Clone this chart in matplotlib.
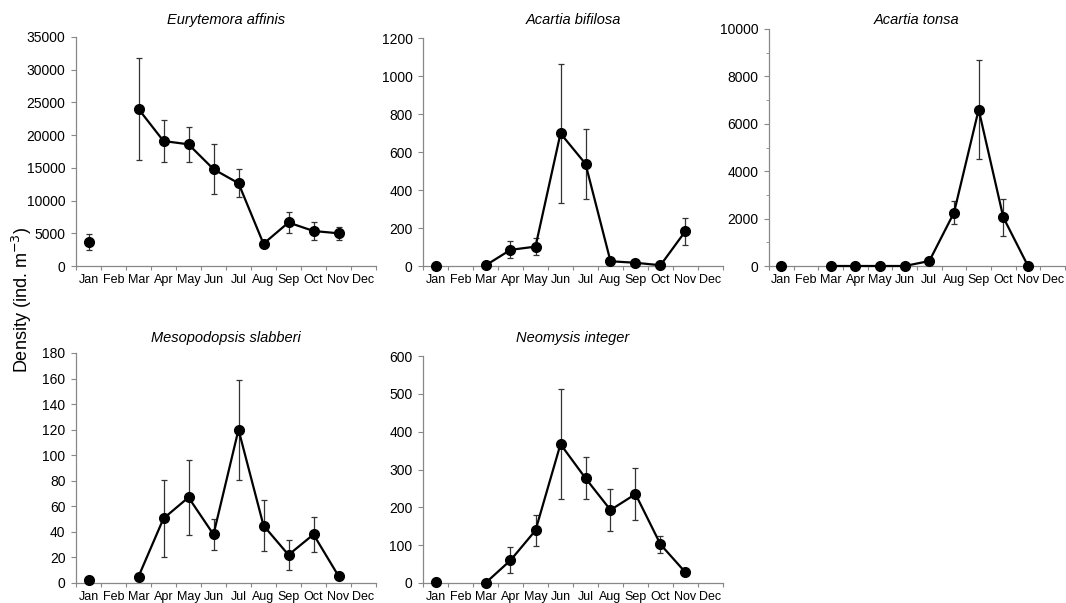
"""
Seasonal density of five estuarine zooplankton species (mean +/- SE per month).
"""
import numpy as np
import matplotlib
matplotlib.use("Agg")
import matplotlib.pyplot as plt
from matplotlib.ticker import MultipleLocator

plt.rcParams["font.family"] = ["Liberation Sans Narrow", "Liberation Sans", "DejaVu Sans"]

MONTHS = ["Jan", "Feb", "Mar", "Apr", "May", "Jun",
          "Jul", "Aug", "Sep", "Oct", "Nov", "Dec"]
nan = np.nan

# monthly means (NaN = no sample)
eurytemora = [3700, nan, 24000, 19100, 18600, 14800, 12650, 3400, 6650, 5350, 5000, nan]
eurytemora_err = [1200, nan, 7750, 3250, 2650, 3800, 2100, 300, 1600, 1300, 1000, nan]

bifilosa = [0, nan, 3, 85, 102, 698, 538, 25, 17, 4, 184, nan]
bifilosa_err = [nan, nan, nan, 44, 45, 365, 185, nan, nan, nan, 71, nan]

tonsa = [0, nan, 0, 0, 0, 0, 210, 2250, 6600, 2050, 0, nan]
tonsa_err = [nan, nan, nan, nan, nan, nan, nan, 480, 2100, 780, nan, nan]

mesopodopsis = [2.5, nan, 5, 50.5, 67, 38, 120, 45, 22, 38, 5.5, nan]
mesopodopsis_err = [nan, nan, nan, 30.5, 29.5, 12, 39, 20, 11.7, 13.4, nan, nan]

neomysis = [2, nan, 0, 60, 139, 367, 277, 193, 235, 102, 28, nan]
neomysis_err = [nan, nan, nan, 34, 42, 145, 56, 55, 69, 23, nan, nan]

# (title, values, errors, ymax, major step, minor step, axes rect in px)
PANELS = [
    ("Eurytemora affinis", eurytemora, eurytemora_err, 35000, 5000, None, (76, 37, 300, 229)),
    ("Acartia bifilosa", bifilosa, bifilosa_err, 1200, 200, None, (423, 38, 300, 228)),
    ("Acartia tonsa", tonsa, tonsa_err, 10000, 2000, 1000, (769, 29, 296, 237)),
    ("Mesopodopsis slabberi", mesopodopsis, mesopodopsis_err, 180, 20, None, (76, 353, 300, 230)),
    ("Neomysis integer", neomysis, neomysis_err, 600, 100, None, (423, 356, 300, 227)),
]
TITLE_Y = [20, 20, 20, 338, 338]

W, H = 1066, 603
fig = plt.figure(figsize=(W / 100, H / 100), dpi=100)

x = np.arange(len(MONTHS)) + 0.5
for (title, vals, errs, ymax, step, mstep, (l, t, w, h)), ty in zip(PANELS, TITLE_Y):
    ax = fig.add_axes([l / W, 1 - (t + h) / H, w / W, h / H])
    vals = np.array(vals, dtype=float)
    errs = np.array(errs, dtype=float)
    ax.errorbar(x, vals, yerr=errs, fmt="none", ecolor="#333333",
                elinewidth=0.9, capsize=2.5, capthick=0.9, zorder=2)
    ax.plot(x, vals, "-o", color="black", lw=1.6, ms=7, zorder=3, clip_on=False)

    ax.set_xlim(0, 12)
    ax.set_ylim(0, ymax)
    ax.set_xticks(np.arange(13))
    ax.set_xticklabels([])
    ax.set_xticks(x, minor=True)
    ax.set_xticklabels(MONTHS, minor=True)
    ax.tick_params(axis="x", which="minor", length=0, pad=6, labelsize=9)
    ax.tick_params(axis="x", which="major", length=3, direction="out", color="#888888")
    ax.yaxis.set_major_locator(MultipleLocator(step))
    if mstep:
        ax.yaxis.set_minor_locator(MultipleLocator(mstep))
        ax.tick_params(axis="y", which="minor", length=2.5, color="#888888")
    ax.tick_params(axis="y", which="major", length=3.5, color="#888888", labelsize=10, pad=4)
    for side in ("top", "right"):
        ax.spines[side].set_visible(False)
    for side in ("left", "bottom"):
        ax.spines[side].set_color("#888888")
        ax.spines[side].set_linewidth(0.9)

    fig.text((l + w / 2) / W, 1 - ty / H, title, ha="center", va="center",
             fontsize=10.5, style="italic")

fig.text(22 / W, 1 - 300 / H, "Density (ind. m$^{-3}$)", rotation=90,
         ha="center", va="center", fontsize=13)

fig.savefig("out.png", dpi=100)
